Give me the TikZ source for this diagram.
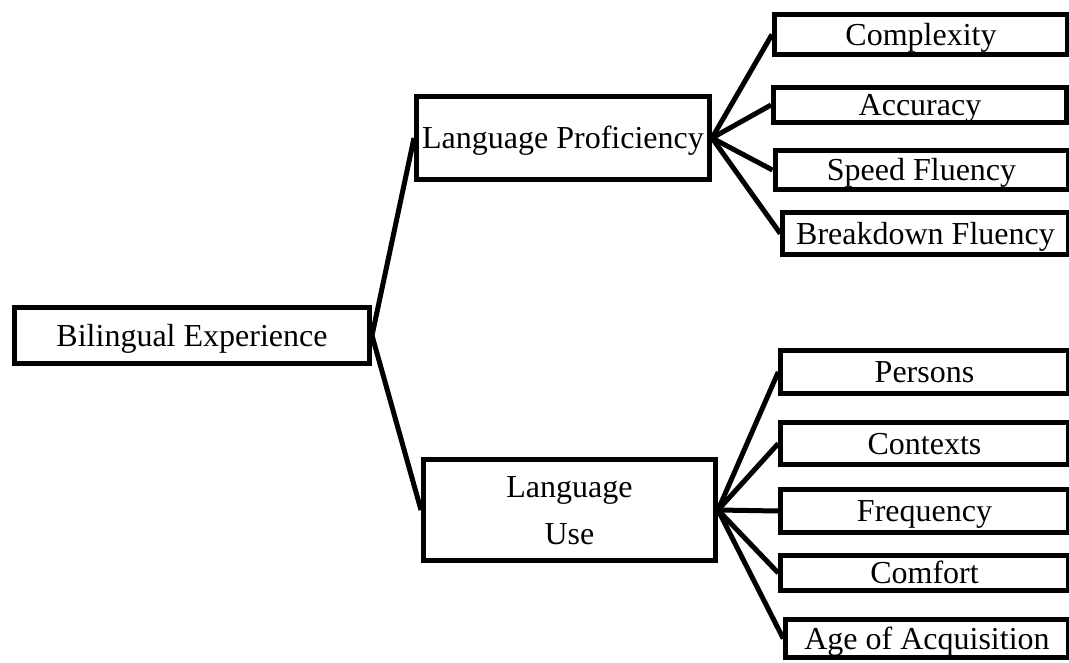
\documentclass[tikz,border=0pt]{standalone}
\usepackage{fontspec}
\setmainfont{Liberation Serif}
\usepackage{tikz}
\usetikzlibrary{positioning}

\begin{document}
\begin{tikzpicture}[x=1pt,y=-1pt,
    box/.style={draw,line width=5pt,rectangle,inner sep=0pt,
      font=\fontsize{32}{47}\selectfont,text height=21pt,text depth=0pt},
    leaf/.style={box,minimum width=293pt},
    link/.style={line width=5pt}]
  \useasboundingbox (0,0) rectangle (1069,662);
  % main boxes
  \node[box,minimum width=355pt,minimum height=56pt] (bil) at (192,335.5) {Bilingual Experience};
  \node[box,minimum width=293pt,minimum height=83pt] (prof) at (563,138) {Language Proficiency};
  \node[box,align=center,text height=68pt,minimum width=292pt,minimum height=101pt] (use) at (569.5,510) {Language\\Use};
  % proficiency measures
  \node[leaf,minimum height=40pt] (comp) at (921,34.5) {Complexity};
  \node[leaf,minimum height=35pt] (acc) at (920,105) {Accuracy};
  \node[leaf,minimum height=39pt] (speed) at (921.5,170) {Speed Fluency};
  \node[leaf,minimum width=285.5pt,minimum height=42pt] (brk) at (925.5,233.5) {Breakdown Fluency};
  % use measures
  \node[leaf,minimum width=287.5pt,minimum height=43pt] (pers) at (924.5,372) {Persons};
  \node[leaf,minimum width=287.5pt,minimum height=42pt] (ctx) at (924.5,443.5) {Contexts};
  \node[leaf,minimum width=287.5pt,minimum height=43pt] (freq) at (924.5,511) {Frequency};
  \node[leaf,minimum width=287.5pt,minimum height=35pt] (comf) at (924.5,573) {Comfort};
  \node[leaf,minimum width=282.5pt,minimum height=38pt] (age) at (927,638.5) {Age of Acquisition};
  \path[link]
    (bil.east) edge (prof.west)
               edge (use.west)
    (prof.east) edge (comp.west)
                edge (acc.west)
                edge (speed.west)
                edge (brk.west)
    (use.east) edge (pers.west)
               edge (ctx.west)
               edge (freq.west)
               edge (comf.west)
               edge (age.west);
\end{tikzpicture}
\end{document}
